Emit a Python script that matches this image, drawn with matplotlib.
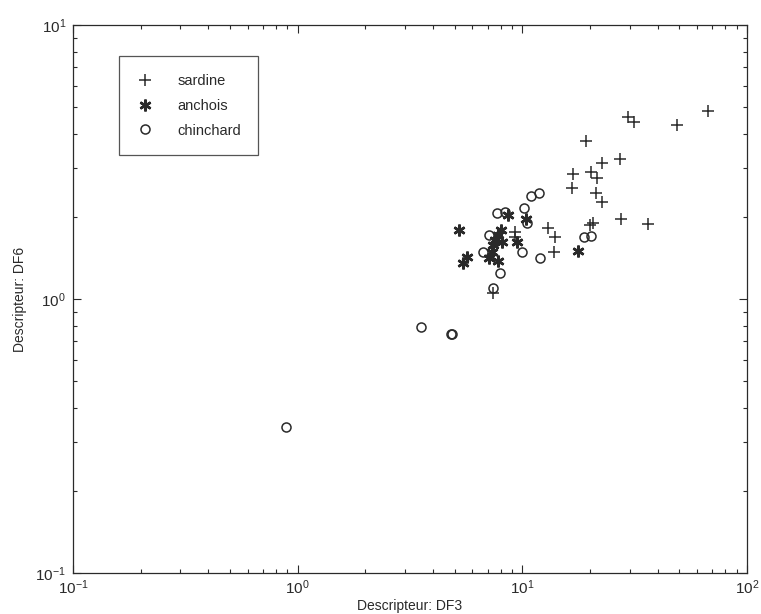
import numpy as np
import matplotlib
matplotlib.use("Agg")
import matplotlib.pyplot as plt
from matplotlib.ticker import LogLocator

plt.rcParams['font.family'] = ['Liberation Sans', 'DejaVu Sans']
plt.rcParams['axes.unicode_minus'] = False
plt.rcParams['mathtext.fontset'] = 'custom'
plt.rcParams['mathtext.rm'] = 'Liberation Sans'

# DF3 / DF6 values
sardine_df3 = [66.9, 48.8, 29.5, 31.4, 19.2, 22.6, 27.2, 16.8, 20.2, 21.5, 16.6, 21.3,
               22.6, 27.5, 36.2, 20.0, 20.6, 13.0, 14.0, 13.8, 9.27, 9.27, 7.40]
sardine_df6 = [4.85, 4.32, 4.62, 4.43, 3.77, 3.14, 3.24, 2.86, 2.91, 2.76, 2.54, 2.44,
               2.26, 1.96, 1.88, 1.86, 1.89, 1.82, 1.68, 1.48, 1.76, 1.68, 1.05]

anchois_df3 = [5.22, 8.63, 10.4, 8.03, 7.79, 7.55, 8.11, 7.40, 7.32, 7.10, 7.79, 5.67,
               5.44, 9.46, 17.7]
anchois_df6 = [1.79, 2.03, 1.96, 1.79, 1.71, 1.64, 1.61, 1.57, 1.48, 1.41, 1.38, 1.42,
               1.35, 1.61, 1.50]

chinchard_df3 = [7.71, 8.37, 10.2, 10.5, 10.9, 11.9, 18.8, 20.2, 9.96, 12.0, 7.10, 6.68,
                 7.95, 7.40, 3.54, 4.82, 4.86, 0.887]
chinchard_df6 = [2.06, 2.08, 2.15, 1.89, 2.38, 2.44, 1.68, 1.70, 1.48, 1.41, 1.71, 1.48,
                 1.24, 1.10, 0.79, 0.745, 0.742, 0.341]

ink = '#2a2a2a'

fig = plt.figure(figsize=(7.61, 6.14), dpi=100)
ax = fig.add_axes([0.0959, 0.0668, 0.8857, 0.8925])

ax.plot(sardine_df3, sardine_df6, linestyle='none', marker='+', color=ink,
        markersize=8, markeredgewidth=1.1, label='sardine')
ax.plot(anchois_df3, anchois_df6, linestyle='none', marker=(6, 2, 0), color=ink,
        markersize=8.5, markeredgewidth=1.8, label='anchois')
ax.plot(chinchard_df3, chinchard_df6, linestyle='none', marker='o', color=ink,
        markerfacecolor='none', markersize=6.5, markeredgewidth=1.1, label='chinchard')

ax.set_xscale('log')
ax.set_yscale('log')
ax.set_xlim(0.1, 100)
ax.set_ylim(0.1, 10)

ax.xaxis.set_major_locator(LogLocator(base=10, numticks=10))
ax.yaxis.set_major_locator(LogLocator(base=10, numticks=10))
ax.xaxis.set_minor_locator(LogLocator(base=10, subs=np.arange(2, 10), numticks=20))
ax.yaxis.set_minor_locator(LogLocator(base=10, subs=np.arange(2, 10), numticks=20))

ax.tick_params(which='both', direction='in', top=True, right=True, colors=ink,
               labelsize=11, width=0.8)
ax.tick_params(which='major', length=6)
ax.tick_params(axis='x', which='major', pad=4)
ax.tick_params(axis='y', which='major', pad=5)
ax.tick_params(which='minor', length=3)
for s in ax.spines.values():
    s.set_color(ink)
    s.set_linewidth(0.9)

ax.set_xlabel('Descripteur: DF3', fontsize=10, color=ink, labelpad=1)
ax.set_ylabel('Descripteur: DF6', fontsize=10, color=ink, labelpad=6)

leg = ax.legend(loc='upper left', bbox_to_anchor=(0.068, 0.943), frameon=True,
                fancybox=False, edgecolor=ink, fontsize=10.5, handletextpad=1.6,
                borderpad=1.2, labelspacing=0.75, handlelength=1.2, borderaxespad=0)
leg.get_frame().set_linewidth(0.9)
for t in leg.get_texts():
    t.set_color(ink)

plt.savefig('out.png', dpi=100)
